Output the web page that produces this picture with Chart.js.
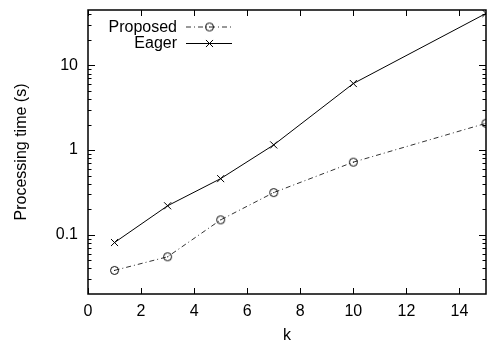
<!DOCTYPE html>
<html>
<head>
<meta charset="utf-8">
<script src="https://cdn.jsdelivr.net/npm/chart.js@4"></script>
<style>
  html, body { margin: 0; padding: 0; background: #fff; }
</style>
</head>
<body>
<canvas id="myChart" width="492" height="345"></canvas>
<script>
/* globals Chart:false */

// values
var kValues = [1, 3, 5, 7, 10, 15];
var proposedTimes = [0.038, 0.055, 0.15, 0.315, 0.72, 2.07];
var eagerTimes = [0.081, 0.22, 0.46, 1.15, 6.1, 41];
var xTicks = [0, 2, 4, 6, 8, 10, 12, 14];
var yTicks = [0.1, 1, 10];
var yMinor = [0.03, 0.04, 0.05, 0.06, 0.07, 0.08, 0.09,
              0.2, 0.3, 0.4, 0.5, 0.6, 0.7, 0.8, 0.9,
              2, 3, 4, 5, 6, 7, 8, 9, 20, 30, 40];

var FONT = 'Liberation Sans, Arial, Helvetica, sans-serif';

// circle with a little dot inside, like the gnuplot marker
function circleDot() {
    var c = document.createElement('canvas');
    c.width = 11; c.height = 11;
    var g = c.getContext('2d');
    g.strokeStyle = '#000';
    g.lineWidth = 1;
    g.beginPath();
    g.arc(5.5, 5.5, 4, 0, Math.PI * 2);
    g.stroke();
    g.fillStyle = '#000';
    g.fillRect(5, 5, 1, 1);
    return c;
}
var circleImg = circleDot();

function pairs(xs, ys) {
    return xs.map(function (x, i) { return { x: x, y: ys[i] }; });
}

// frame and inward ticks on all four sides
var framePlugin = {
    id: 'frame',
    afterDatasetsDraw: function (chart) {
        var ctx = chart.ctx, a = chart.chartArea;
        var xs = chart.scales.x, ys = chart.scales.y;
        ctx.save();
        ctx.strokeStyle = '#000';
        ctx.lineWidth = 1;
        ctx.beginPath();
        xTicks.forEach(function (v) {
            var px = Math.round(xs.getPixelForValue(v)) + 0.5;
            ctx.moveTo(px, a.bottom); ctx.lineTo(px, a.bottom - 6);
            ctx.moveTo(px, a.top); ctx.lineTo(px, a.top + 6);
        });
        yTicks.forEach(function (v) {
            var py = Math.round(ys.getPixelForValue(v)) + 0.5;
            ctx.moveTo(a.left, py); ctx.lineTo(a.left + 7, py);
            ctx.moveTo(a.right, py); ctx.lineTo(a.right - 7, py);
        });
        yMinor.forEach(function (v) {
            var py = Math.round(ys.getPixelForValue(v)) + 0.5;
            ctx.moveTo(a.left, py); ctx.lineTo(a.left + 3.5, py);
            ctx.moveTo(a.right, py); ctx.lineTo(a.right - 3.5, py);
        });
        ctx.stroke();
        ctx.lineWidth = 1.5;
        ctx.strokeRect(a.left, a.top, a.right - a.left, a.bottom - a.top);
        ctx.restore();
    }
};

// gnuplot style key: text right aligned, sample to the right
var keyPlugin = {
    id: 'key',
    afterDraw: function (chart) {
        var ctx = chart.ctx;
        var rows = [26.5, 43];
        ctx.save();
        ctx.font = '16px ' + FONT;
        ctx.textAlign = 'right';
        ctx.textBaseline = 'middle';
        chart.data.datasets.forEach(function (ds, i) {
            var y = rows[i];
            ctx.fillStyle = '#000';
            ctx.fillText(ds.label, 177, y + 1);
            ctx.strokeStyle = ds.borderColor;
            ctx.lineWidth = 1;
            ctx.setLineDash(ds.borderDash || []);
            ctx.beginPath();
            ctx.moveTo(186, y + 0.5); ctx.lineTo(232, y + 0.5);
            ctx.stroke();
            ctx.setLineDash([]);
            ctx.strokeStyle = '#000';
            Chart.helpers.drawPoint(ctx, {
                pointStyle: ds.pointStyle, radius: ds.pointRadius, rotation: 0,
                borderWidth: 1
            }, 209.5, y + 0.5);
        });
        ctx.restore();
    }
};

var ctx = document.getElementById('myChart');

var myChart = new Chart(ctx, {
    type: 'scatter',
    data: {
        datasets: [{
            label: 'Proposed',
            data: pairs(kValues, proposedTimes),
            showLine: true,
            borderColor: '#333',
            borderWidth: 1,
            borderDash: [5, 3, 1, 3],
            pointStyle: circleImg,
            pointRadius: 4.5,
            backgroundColor: 'transparent'
        }, {
            label: 'Eager',
            data: pairs(kValues, eagerTimes),
            showLine: true,
            borderColor: '#000',
            borderWidth: 1,
            pointStyle: 'crossRot',
            pointRadius: 5,
            pointBorderWidth: 1,
            pointBorderColor: '#000',
            backgroundColor: 'transparent'
        }]
    },
    options: {
        responsive: false,
        animation: false,
        devicePixelRatio: 1,
        layout: { padding: { top: 10, right: 4, left: 0, bottom: 0 } },
        plugins: { legend: { display: false }, tooltip: { enabled: false } },
        scales: {
            x: {
                type: 'linear',
                min: 0,
                max: 15,
                afterBuildTicks: function (scale) {
                    scale.ticks = xTicks.map(function (v) { return { value: v }; });
                },
                afterFit: function (scale) {
                    scale.height = 51;
                    scale.paddingLeft = 0; scale.paddingRight = 0;
                },
                grid: { display: false, drawTicks: false },
                border: { display: false },
                ticks: { color: '#000', font: { family: FONT, size: 16 }, padding: 8 },
                title: {
                    display: true, text: 'k', color: '#000',
                    font: { family: FONT, size: 16 }, padding: { top: 0, bottom: 0 }
                }
            },
            y: {
                type: 'logarithmic',
                min: 0.02,
                max: 45,
                afterBuildTicks: function (scale) {
                    scale.ticks = yTicks.map(function (v) { return { value: v }; });
                },
                afterFit: function (scale) {
                    scale.width = 88;
                    scale.paddingTop = 0; scale.paddingBottom = 0;
                },
                grid: { display: false, drawTicks: false },
                border: { display: false },
                ticks: {
                    color: '#000', font: { family: FONT, size: 16 }, padding: 10,
                    callback: function (v) { return String(v); }
                },
                title: {
                    display: true, text: 'Processing time (s)', color: '#000',
                    font: { family: FONT, size: 16 }, padding: { top: 12, bottom: 0 }
                }
            }
        }
    },
    plugins: [framePlugin, keyPlugin]
});
</script>
</body>
</html>
